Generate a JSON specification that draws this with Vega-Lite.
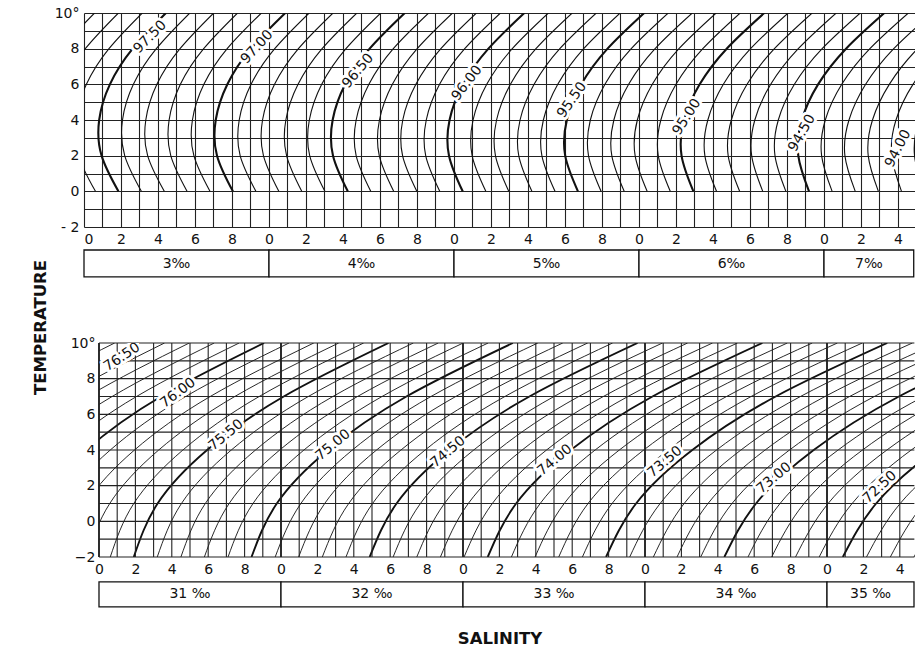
{
"$schema": "https://vega.github.io/schema/vega-lite/v6.json",
"background": "white",
"padding": {"left": 32, "top": 6, "right": 0, "bottom": 0},
"bounds": "flush",
"spacing": 116,
"resolve": {"scale": {"angle": "independent"}},
"config": {
  "view": {"stroke": null},
  "font": "DejaVu Sans",
  "axis": {"labelFont": "DejaVu Sans", "labelFontSize": 14, "labelColor": "#111", "ticks": false, "tickSize": 0, "domain": false, "labelOverlap": false, "labelBound": false, "gridColor": "#222", "gridWidth": 1.1, "gridOpacity": 1}
},
"datasets": {
"topCurves": [
{"V":97.8,"T":0,"S":2.815},{"V":97.8,"T":2,"S":2.720},{"V":97.8,"T":4,"S":2.704},{"V":97.8,"T":6,"S":2.759},{"V":97.8,"T":8,"S":2.879},{"V":97.8,"T":10,"S":3.057},
{"V":97.7,"T":0,"S":2.938},{"V":97.7,"T":2,"S":2.845},{"V":97.7,"T":4,"S":2.830},{"V":97.7,"T":6,"S":2.886},{"V":97.7,"T":8,"S":3.007},{"V":97.7,"T":10,"S":3.186},
{"V":97.6,"T":0,"S":3.062},{"V":97.6,"T":2,"S":2.970},{"V":97.6,"T":4,"S":2.956},{"V":97.6,"T":6,"S":3.013},{"V":97.6,"T":8,"S":3.135},{"V":97.6,"T":10,"S":3.315},
{"V":97.5,"T":0,"S":3.186},{"V":97.5,"T":2,"S":3.095},{"V":97.5,"T":4,"S":3.082},{"V":97.5,"T":6,"S":3.140},{"V":97.5,"T":8,"S":3.263},{"V":97.5,"T":10,"S":3.443},
{"V":97.4,"T":0,"S":3.310},{"V":97.4,"T":2,"S":3.220},{"V":97.4,"T":4,"S":3.208},{"V":97.4,"T":6,"S":3.267},{"V":97.4,"T":8,"S":3.391},{"V":97.4,"T":10,"S":3.572},
{"V":97.3,"T":0,"S":3.434},{"V":97.3,"T":2,"S":3.344},{"V":97.3,"T":4,"S":3.334},{"V":97.3,"T":6,"S":3.394},{"V":97.3,"T":8,"S":3.519},{"V":97.3,"T":10,"S":3.701},
{"V":97.2,"T":0,"S":3.557},{"V":97.2,"T":2,"S":3.469},{"V":97.2,"T":4,"S":3.460},{"V":97.2,"T":6,"S":3.521},{"V":97.2,"T":8,"S":3.647},{"V":97.2,"T":10,"S":3.830},
{"V":97.1,"T":0,"S":3.681},{"V":97.1,"T":2,"S":3.594},{"V":97.1,"T":4,"S":3.586},{"V":97.1,"T":6,"S":3.648},{"V":97.1,"T":8,"S":3.774},{"V":97.1,"T":10,"S":3.959},
{"V":97.0,"T":0,"S":3.805},{"V":97.0,"T":2,"S":3.719},{"V":97.0,"T":4,"S":3.712},{"V":97.0,"T":6,"S":3.775},{"V":97.0,"T":8,"S":3.902},{"V":97.0,"T":10,"S":4.088},
{"V":96.9,"T":0,"S":3.929},{"V":96.9,"T":2,"S":3.844},{"V":96.9,"T":4,"S":3.839},{"V":96.9,"T":6,"S":3.903},{"V":96.9,"T":8,"S":4.031},{"V":96.9,"T":10,"S":4.217},
{"V":96.8,"T":0,"S":4.053},{"V":96.8,"T":2,"S":3.970},{"V":96.8,"T":4,"S":3.965},{"V":96.8,"T":6,"S":4.030},{"V":96.8,"T":8,"S":4.159},{"V":96.8,"T":10,"S":4.346},
{"V":96.7,"T":0,"S":4.177},{"V":96.7,"T":2,"S":4.095},{"V":96.7,"T":4,"S":4.091},{"V":96.7,"T":6,"S":4.157},{"V":96.7,"T":8,"S":4.287},{"V":96.7,"T":10,"S":4.475},
{"V":96.6,"T":0,"S":4.302},{"V":96.6,"T":2,"S":4.220},{"V":96.6,"T":4,"S":4.218},{"V":96.6,"T":6,"S":4.285},{"V":96.6,"T":8,"S":4.416},{"V":96.6,"T":10,"S":4.604},
{"V":96.5,"T":0,"S":4.426},{"V":96.5,"T":2,"S":4.346},{"V":96.5,"T":4,"S":4.344},{"V":96.5,"T":6,"S":4.412},{"V":96.5,"T":8,"S":4.544},{"V":96.5,"T":10,"S":4.734},
{"V":96.4,"T":0,"S":4.550},{"V":96.4,"T":2,"S":4.471},{"V":96.4,"T":4,"S":4.471},{"V":96.4,"T":6,"S":4.540},{"V":96.4,"T":8,"S":4.672},{"V":96.4,"T":10,"S":4.863},
{"V":96.3,"T":0,"S":4.674},{"V":96.3,"T":2,"S":4.596},{"V":96.3,"T":4,"S":4.597},{"V":96.3,"T":6,"S":4.667},{"V":96.3,"T":8,"S":4.801},{"V":96.3,"T":10,"S":4.992},
{"V":96.2,"T":0,"S":4.799},{"V":96.2,"T":2,"S":4.722},{"V":96.2,"T":4,"S":4.723},{"V":96.2,"T":6,"S":4.794},{"V":96.2,"T":8,"S":4.929},{"V":96.2,"T":10,"S":5.121},
{"V":96.1,"T":0,"S":4.923},{"V":96.1,"T":2,"S":4.847},{"V":96.1,"T":4,"S":4.850},{"V":96.1,"T":6,"S":4.922},{"V":96.1,"T":8,"S":5.058},{"V":96.1,"T":10,"S":5.251},
{"V":96.0,"T":0,"S":5.047},{"V":96.0,"T":2,"S":4.973},{"V":96.0,"T":4,"S":4.976},{"V":96.0,"T":6,"S":5.049},{"V":96.0,"T":8,"S":5.186},{"V":96.0,"T":10,"S":5.380},
{"V":95.9,"T":0,"S":5.172},{"V":95.9,"T":2,"S":5.098},{"V":95.9,"T":4,"S":5.103},{"V":95.9,"T":6,"S":5.177},{"V":95.9,"T":8,"S":5.315},{"V":95.9,"T":10,"S":5.510},
{"V":95.8,"T":0,"S":5.296},{"V":95.8,"T":2,"S":5.224},{"V":95.8,"T":4,"S":5.230},{"V":95.8,"T":6,"S":5.305},{"V":95.8,"T":8,"S":5.443},{"V":95.8,"T":10,"S":5.639},
{"V":95.7,"T":0,"S":5.421},{"V":95.7,"T":2,"S":5.350},{"V":95.7,"T":4,"S":5.357},{"V":95.7,"T":6,"S":5.433},{"V":95.7,"T":8,"S":5.572},{"V":95.7,"T":10,"S":5.769},
{"V":95.6,"T":0,"S":5.546},{"V":95.6,"T":2,"S":5.475},{"V":95.6,"T":4,"S":5.483},{"V":95.6,"T":6,"S":5.561},{"V":95.6,"T":8,"S":5.701},{"V":95.6,"T":10,"S":5.898},
{"V":95.5,"T":0,"S":5.670},{"V":95.5,"T":2,"S":5.601},{"V":95.5,"T":4,"S":5.610},{"V":95.5,"T":6,"S":5.688},{"V":95.5,"T":8,"S":5.830},{"V":95.5,"T":10,"S":6.028},
{"V":95.4,"T":0,"S":5.795},{"V":95.4,"T":2,"S":5.727},{"V":95.4,"T":4,"S":5.737},{"V":95.4,"T":6,"S":5.816},{"V":95.4,"T":8,"S":5.958},{"V":95.4,"T":10,"S":6.158},
{"V":95.3,"T":0,"S":5.920},{"V":95.3,"T":2,"S":5.853},{"V":95.3,"T":4,"S":5.864},{"V":95.3,"T":6,"S":5.944},{"V":95.3,"T":8,"S":6.087},{"V":95.3,"T":10,"S":6.288},
{"V":95.2,"T":0,"S":6.044},{"V":95.2,"T":2,"S":5.979},{"V":95.2,"T":4,"S":5.991},{"V":95.2,"T":6,"S":6.072},{"V":95.2,"T":8,"S":6.216},{"V":95.2,"T":10,"S":6.417},
{"V":95.1,"T":0,"S":6.169},{"V":95.1,"T":2,"S":6.104},{"V":95.1,"T":4,"S":6.118},{"V":95.1,"T":6,"S":6.200},{"V":95.1,"T":8,"S":6.345},{"V":95.1,"T":10,"S":6.547},
{"V":95.0,"T":0,"S":6.294},{"V":95.0,"T":2,"S":6.230},{"V":95.0,"T":4,"S":6.244},{"V":95.0,"T":6,"S":6.328},{"V":95.0,"T":8,"S":6.474},{"V":95.0,"T":10,"S":6.677},
{"V":94.9,"T":0,"S":6.419},{"V":94.9,"T":2,"S":6.356},{"V":94.9,"T":4,"S":6.372},{"V":94.9,"T":6,"S":6.456},{"V":94.9,"T":8,"S":6.603},{"V":94.9,"T":10,"S":6.806},
{"V":94.8,"T":0,"S":6.544},{"V":94.8,"T":2,"S":6.482},{"V":94.8,"T":4,"S":6.499},{"V":94.8,"T":6,"S":6.584},{"V":94.8,"T":8,"S":6.732},{"V":94.8,"T":10,"S":6.936},
{"V":94.7,"T":0,"S":6.669},{"V":94.7,"T":2,"S":6.609},{"V":94.7,"T":4,"S":6.626},{"V":94.7,"T":6,"S":6.712},{"V":94.7,"T":8,"S":6.861},{"V":94.7,"T":10,"S":7.066},
{"V":94.6,"T":0,"S":6.794},{"V":94.6,"T":2,"S":6.735},{"V":94.6,"T":4,"S":6.753},{"V":94.6,"T":6,"S":6.840},{"V":94.6,"T":8,"S":6.990},{"V":94.6,"T":10,"S":7.196},
{"V":94.5,"T":0,"S":6.919},{"V":94.5,"T":2,"S":6.861},{"V":94.5,"T":4,"S":6.880},{"V":94.5,"T":6,"S":6.968},{"V":94.5,"T":8,"S":7.119},{"V":94.5,"T":10,"S":7.326},
{"V":94.4,"T":0,"S":7.044},{"V":94.4,"T":2,"S":6.987},{"V":94.4,"T":4,"S":7.007},{"V":94.4,"T":6,"S":7.096},{"V":94.4,"T":8,"S":7.248},{"V":94.4,"T":10,"S":7.456},
{"V":94.3,"T":0,"S":7.169},{"V":94.3,"T":2,"S":7.113},{"V":94.3,"T":4,"S":7.135},{"V":94.3,"T":6,"S":7.225},{"V":94.3,"T":8,"S":7.377},{"V":94.3,"T":10,"S":7.586},
{"V":94.2,"T":0,"S":7.294},{"V":94.2,"T":2,"S":7.239},{"V":94.2,"T":4,"S":7.262},{"V":94.2,"T":6,"S":7.353},{"V":94.2,"T":8,"S":7.506},{"V":94.2,"T":10,"S":7.716},
{"V":94.1,"T":0,"S":7.419},{"V":94.1,"T":2,"S":7.366},{"V":94.1,"T":4,"S":7.389},{"V":94.1,"T":6,"S":7.481},{"V":94.1,"T":8,"S":7.636},{"V":94.1,"T":10,"S":7.846},
{"V":94.0,"T":0,"S":7.544},{"V":94.0,"T":2,"S":7.492},{"V":94.0,"T":4,"S":7.516},{"V":94.0,"T":6,"S":7.609},{"V":94.0,"T":8,"S":7.765},{"V":94.0,"T":10,"S":7.976}
],
"botCurves": [
{"V":76.6,"T":-2,"S":29.768},{"V":76.6,"T":1,"S":29.879},{"V":76.6,"T":4,"S":30.131},{"V":76.6,"T":7,"S":30.532},{"V":76.6,"T":10,"S":31.086},
{"V":76.5,"T":-2,"S":29.897},{"V":76.5,"T":1,"S":30.010},{"V":76.5,"T":4,"S":30.264},{"V":76.5,"T":7,"S":30.667},{"V":76.5,"T":10,"S":31.223},
{"V":76.4,"T":-2,"S":30.026},{"V":76.4,"T":1,"S":30.141},{"V":76.4,"T":4,"S":30.397},{"V":76.4,"T":7,"S":30.802},{"V":76.4,"T":10,"S":31.360},
{"V":76.3,"T":-2,"S":30.156},{"V":76.3,"T":1,"S":30.272},{"V":76.3,"T":4,"S":30.530},{"V":76.3,"T":7,"S":30.937},{"V":76.3,"T":10,"S":31.496},
{"V":76.2,"T":-2,"S":30.285},{"V":76.2,"T":1,"S":30.403},{"V":76.2,"T":4,"S":30.663},{"V":76.2,"T":7,"S":31.072},{"V":76.2,"T":10,"S":31.633},
{"V":76.1,"T":-2,"S":30.415},{"V":76.1,"T":1,"S":30.535},{"V":76.1,"T":4,"S":30.796},{"V":76.1,"T":7,"S":31.206},{"V":76.1,"T":10,"S":31.770},
{"V":76.0,"T":-2,"S":30.544},{"V":76.0,"T":1,"S":30.666},{"V":76.0,"T":4,"S":30.929},{"V":76.0,"T":7,"S":31.341},{"V":76.0,"T":10,"S":31.907},
{"V":75.9,"T":-2,"S":30.673},{"V":75.9,"T":1,"S":30.797},{"V":75.9,"T":4,"S":31.062},{"V":75.9,"T":7,"S":31.476},{"V":75.9,"T":10,"S":32.044},
{"V":75.8,"T":-2,"S":30.803},{"V":75.8,"T":1,"S":30.928},{"V":75.8,"T":4,"S":31.195},{"V":75.8,"T":7,"S":31.611},{"V":75.8,"T":10,"S":32.180},
{"V":75.7,"T":-2,"S":30.932},{"V":75.7,"T":1,"S":31.059},{"V":75.7,"T":4,"S":31.328},{"V":75.7,"T":7,"S":31.746},{"V":75.7,"T":10,"S":32.317},
{"V":75.6,"T":-2,"S":31.062},{"V":75.6,"T":1,"S":31.191},{"V":75.6,"T":4,"S":31.461},{"V":75.6,"T":7,"S":31.880},{"V":75.6,"T":10,"S":32.454},
{"V":75.5,"T":-2,"S":31.191},{"V":75.5,"T":1,"S":31.322},{"V":75.5,"T":4,"S":31.594},{"V":75.5,"T":7,"S":32.015},{"V":75.5,"T":10,"S":32.591},
{"V":75.4,"T":-2,"S":31.320},{"V":75.4,"T":1,"S":31.453},{"V":75.4,"T":4,"S":31.727},{"V":75.4,"T":7,"S":32.150},{"V":75.4,"T":10,"S":32.727},
{"V":75.3,"T":-2,"S":31.450},{"V":75.3,"T":1,"S":31.584},{"V":75.3,"T":4,"S":31.860},{"V":75.3,"T":7,"S":32.285},{"V":75.3,"T":10,"S":32.864},
{"V":75.2,"T":-2,"S":31.579},{"V":75.2,"T":1,"S":31.715},{"V":75.2,"T":4,"S":31.993},{"V":75.2,"T":7,"S":32.420},{"V":75.2,"T":10,"S":33.001},
{"V":75.1,"T":-2,"S":31.709},{"V":75.1,"T":1,"S":31.846},{"V":75.1,"T":4,"S":32.126},{"V":75.1,"T":7,"S":32.555},{"V":75.1,"T":10,"S":33.138},
{"V":75.0,"T":-2,"S":31.838},{"V":75.0,"T":1,"S":31.977},{"V":75.0,"T":4,"S":32.259},{"V":75.0,"T":7,"S":32.689},{"V":75.0,"T":10,"S":33.274},
{"V":74.9,"T":-2,"S":31.968},{"V":74.9,"T":1,"S":32.109},{"V":74.9,"T":4,"S":32.392},{"V":74.9,"T":7,"S":32.824},{"V":74.9,"T":10,"S":33.411},
{"V":74.8,"T":-2,"S":32.097},{"V":74.8,"T":1,"S":32.240},{"V":74.8,"T":4,"S":32.525},{"V":74.8,"T":7,"S":32.960},{"V":74.8,"T":10,"S":33.548},
{"V":74.7,"T":-2,"S":32.227},{"V":74.7,"T":1,"S":32.372},{"V":74.7,"T":4,"S":32.659},{"V":74.7,"T":7,"S":33.095},{"V":74.7,"T":10,"S":33.685},
{"V":74.6,"T":-2,"S":32.357},{"V":74.6,"T":1,"S":32.503},{"V":74.6,"T":4,"S":32.792},{"V":74.6,"T":7,"S":33.230},{"V":74.6,"T":10,"S":33.822},
{"V":74.5,"T":-2,"S":32.487},{"V":74.5,"T":1,"S":32.635},{"V":74.5,"T":4,"S":32.925},{"V":74.5,"T":7,"S":33.365},{"V":74.5,"T":10,"S":33.959},
{"V":74.4,"T":-2,"S":32.616},{"V":74.4,"T":1,"S":32.766},{"V":74.4,"T":4,"S":33.059},{"V":74.4,"T":7,"S":33.500},{"V":74.4,"T":10,"S":34.096},
{"V":74.3,"T":-2,"S":32.746},{"V":74.3,"T":1,"S":32.898},{"V":74.3,"T":4,"S":33.192},{"V":74.3,"T":7,"S":33.636},{"V":74.3,"T":10,"S":34.234},
{"V":74.2,"T":-2,"S":32.876},{"V":74.2,"T":1,"S":33.029},{"V":74.2,"T":4,"S":33.325},{"V":74.2,"T":7,"S":33.771},{"V":74.2,"T":10,"S":34.371},
{"V":74.1,"T":-2,"S":33.006},{"V":74.1,"T":1,"S":33.161},{"V":74.1,"T":4,"S":33.459},{"V":74.1,"T":7,"S":33.906},{"V":74.1,"T":10,"S":34.508},
{"V":74.0,"T":-2,"S":33.136},{"V":74.0,"T":1,"S":33.292},{"V":74.0,"T":4,"S":33.592},{"V":74.0,"T":7,"S":34.041},{"V":74.0,"T":10,"S":34.645},
{"V":73.9,"T":-2,"S":33.266},{"V":73.9,"T":1,"S":33.424},{"V":73.9,"T":4,"S":33.726},{"V":73.9,"T":7,"S":34.177},{"V":73.9,"T":10,"S":34.782},
{"V":73.8,"T":-2,"S":33.396},{"V":73.8,"T":1,"S":33.556},{"V":73.8,"T":4,"S":33.859},{"V":73.8,"T":7,"S":34.312},{"V":73.8,"T":10,"S":34.919},
{"V":73.7,"T":-2,"S":33.526},{"V":73.7,"T":1,"S":33.687},{"V":73.7,"T":4,"S":33.993},{"V":73.7,"T":7,"S":34.448},{"V":73.7,"T":10,"S":35.057},
{"V":73.6,"T":-2,"S":33.656},{"V":73.6,"T":1,"S":33.819},{"V":73.6,"T":4,"S":34.126},{"V":73.6,"T":7,"S":34.583},{"V":73.6,"T":10,"S":35.194},
{"V":73.5,"T":-2,"S":33.786},{"V":73.5,"T":1,"S":33.951},{"V":73.5,"T":4,"S":34.260},{"V":73.5,"T":7,"S":34.718},{"V":73.5,"T":10,"S":35.331},
{"V":73.4,"T":-2,"S":33.916},{"V":73.4,"T":1,"S":34.083},{"V":73.4,"T":4,"S":34.393},{"V":73.4,"T":7,"S":34.854},{"V":73.4,"T":10,"S":35.469},
{"V":73.3,"T":-2,"S":34.046},{"V":73.3,"T":1,"S":34.215},{"V":73.3,"T":4,"S":34.527},{"V":73.3,"T":7,"S":34.989},{"V":73.3,"T":10,"S":35.606},
{"V":73.2,"T":-2,"S":34.176},{"V":73.2,"T":1,"S":34.346},{"V":73.2,"T":4,"S":34.660},{"V":73.2,"T":7,"S":35.124},{"V":73.2,"T":10,"S":35.743},
{"V":73.1,"T":-2,"S":34.306},{"V":73.1,"T":1,"S":34.478},{"V":73.1,"T":4,"S":34.794},{"V":73.1,"T":7,"S":35.260},{"V":73.1,"T":10,"S":35.881},
{"V":73.0,"T":-2,"S":34.436},{"V":73.0,"T":1,"S":34.610},{"V":73.0,"T":4,"S":34.927},{"V":73.0,"T":7,"S":35.395},{"V":73.0,"T":10,"S":36.019},
{"V":72.9,"T":-2,"S":34.566},{"V":72.9,"T":1,"S":34.742},{"V":72.9,"T":4,"S":35.061},{"V":72.9,"T":7,"S":35.531},{"V":72.9,"T":10,"S":36.156},
{"V":72.8,"T":-2,"S":34.696},{"V":72.8,"T":1,"S":34.874},{"V":72.8,"T":4,"S":35.195},{"V":72.8,"T":7,"S":35.667},{"V":72.8,"T":10,"S":36.294},
{"V":72.7,"T":-2,"S":34.827},{"V":72.7,"T":1,"S":35.006},{"V":72.7,"T":4,"S":35.329},{"V":72.7,"T":7,"S":35.802},{"V":72.7,"T":10,"S":36.431},
{"V":72.6,"T":-2,"S":34.957},{"V":72.6,"T":1,"S":35.138},{"V":72.6,"T":4,"S":35.463},{"V":72.6,"T":7,"S":35.938},{"V":72.6,"T":10,"S":36.569},
{"V":72.5,"T":-2,"S":35.087},{"V":72.5,"T":1,"S":35.270},{"V":72.5,"T":4,"S":35.597},{"V":72.5,"T":7,"S":36.074},{"V":72.5,"T":10,"S":36.707},
{"V":72.4,"T":-2,"S":35.217},{"V":72.4,"T":1,"S":35.402},{"V":72.4,"T":4,"S":35.731},{"V":72.4,"T":7,"S":36.210},{"V":72.4,"T":10,"S":36.845},
{"V":72.3,"T":-2,"S":35.348},{"V":72.3,"T":1,"S":35.534},{"V":72.3,"T":4,"S":35.865},{"V":72.3,"T":7,"S":36.345},{"V":72.3,"T":10,"S":36.983},
{"V":72.2,"T":-2,"S":35.478},{"V":72.2,"T":1,"S":35.666},{"V":72.2,"T":4,"S":35.999},{"V":72.2,"T":7,"S":36.481},{"V":72.2,"T":10,"S":37.121}
],
"topLabels": [
{"lab":"97.50","S":3.357,"T":8.65},{"lab":"97.00","S":3.935,"T":8.09},{"lab":"96.50","S":4.481,"T":6.75},{"lab":"96.00","S":5.07,"T":6.07},
{"lab":"95.50","S":5.638,"T":5.12},{"lab":"95.00","S":6.259,"T":4.17},{"lab":"94.50","S":6.881,"T":3.27},{"lab":"94.00","S":7.4,"T":2.4}
],
"botLabels": [
{"lab":"76.50","S":31.126,"T":9.21},{"lab":"76.00","S":31.434,"T":7.2},{"lab":"75.50","S":31.698,"T":4.84},{"lab":"75.00","S":32.286,"T":4.28},
{"lab":"74.50","S":32.918,"T":3.89},{"lab":"74.00","S":33.505,"T":3.44},{"lab":"73.50","S":34.11,"T":3.33},{"lab":"73.00","S":34.709,"T":2.43},{"lab":"72.50","S":35.291,"T":1.92}
],
"topBoxes": [
{"lo":3,"hi":4,"lab":"3‰"},{"lo":4,"hi":5,"lab":"4‰"},{"lo":5,"hi":6,"lab":"5‰"},{"lo":6,"hi":7,"lab":"6‰"},{"lo":7,"hi":7.485,"lab":"7‰"}
],
"botBoxes": [
{"lo":31,"hi":32,"lab":"31 ‰"},{"lo":32,"hi":33,"lab":"32 ‰"},{"lo":33,"hi":34,"lab":"33 ‰"},{"lo":34,"hi":35,"lab":"34 ‰"},{"lo":35,"hi":35.478,"lab":"35 ‰"}
],
"botV": [
{"S":31},{"S":31.1},{"S":31.2},{"S":31.3},{"S":31.4},{"S":31.5},{"S":31.6},{"S":31.7},{"S":31.8},{"S":31.9},
{"S":32},{"S":32.1},{"S":32.2},{"S":32.3},{"S":32.4},{"S":32.5},{"S":32.6},{"S":32.7},{"S":32.8},{"S":32.9},
{"S":33},{"S":33.1},{"S":33.2},{"S":33.3},{"S":33.4},{"S":33.5},{"S":33.6},{"S":33.7},{"S":33.8},{"S":33.9},
{"S":34},{"S":34.1},{"S":34.2},{"S":34.3},{"S":34.4},{"S":34.5},{"S":34.6},{"S":34.7},{"S":34.8},{"S":34.9},
{"S":35},{"S":35.1},{"S":35.2},{"S":35.3},{"S":35.4}
],
"botH": [
{"T":-2},{"T":-1},{"T":0},{"T":1},{"T":2},{"T":3},{"T":4},{"T":5},{"T":6},{"T":7},{"T":8},{"T":9},{"T":10}
]
},
"vconcat": [
{
  "width": 831, "height": 214,
  "layer": [
    {
      "data": {"name": "topCurves"},
      "mark": {"type": "line", "interpolate": "natural", "clip": true, "color": "#111"},
      "encoding": {
        "x": {"field": "S", "type": "quantitative", "scale": {"domain": [3, 7.4919], "nice": false, "zero": false},
          "axis": {"values": [3,3.1,3.2,3.3,3.4,3.5,3.6,3.7,3.8,3.9,4,4.1,4.2,4.3,4.4,4.5,4.6,4.7,4.8,4.9,5,5.1,5.2,5.3,5.4,5.5,5.6,5.7,5.8,5.9,6,6.1,6.2,6.3,6.4,6.5,6.6,6.7,6.8,6.9,7,7.1,7.2,7.3,7.4],
            "tickCount": 200, "labelOverlap": false,
            "grid": true, "labelExpr": "round(datum.value*10) % 2 == 0 ? '' + (round(datum.value*10) % 10) : ''", "labelPadding": 5, "title": null}},
        "y": {"field": "T", "type": "quantitative", "scale": {"domain": [-2, 10], "nice": false, "zero": false},
          "axis": {"values": [-2,-1,0,1,2,3,4,5,6,7,8,9,10], "tickCount": 200, "labelOverlap": false, "grid": true,
            "labelExpr": "datum.value == 10 ? '10°' : (datum.value == -2 ? '- 2' : (datum.value % 2 == 0 ? '' + datum.value : ''))",
            "labelPadding": 5, "title": "TEMPERATURE", "titleFont": "DejaVu Sans", "titleFontSize": 16.5, "titleFontWeight": "bold", "titleColor": "#111",
            "titleAngle": 270, "titleX": -44, "titleY": 314, "titleAlign": "center", "titleBaseline": "middle"}},
        "detail": {"field": "V", "type": "nominal"},
        "order": {"field": "T", "type": "quantitative"},
        "strokeWidth": {"condition": {"test": "abs(datum.V*2 - round(datum.V*2)) < 0.01", "value": 2.1}, "value": 1.1}
      }
    },
    {
      "data": {"name": "topLabels"},
      "mark": {"type": "text", "font": "DejaVu Sans", "fontSize": 14, "fill": "white", "stroke": "white", "strokeWidth": 6, "strokeJoin": "round", "clip": true, "align": "center", "baseline": "middle"},
      "encoding": {
        "x": {"field": "S", "type": "quantitative"}, "y": {"field": "T", "type": "quantitative"}, "text": {"field": "lab"},
        "angle": {"field": "S", "type": "quantitative", "scale": {"domain": [3.357, 7.44], "range": [315, 297]}, "legend": null}
      }
    },
    {
      "data": {"name": "topLabels"},
      "mark": {"type": "text", "font": "DejaVu Sans", "fontSize": 14, "fill": "#111", "clip": true, "align": "center", "baseline": "middle"},
      "encoding": {
        "x": {"field": "S", "type": "quantitative"}, "y": {"field": "T", "type": "quantitative"}, "text": {"field": "lab"},
        "angle": {"field": "S", "type": "quantitative", "scale": {"domain": [3.357, 7.44], "range": [315, 297]}, "legend": null}
      }
    },
    {
      "data": {"name": "topBoxes"},
      "mark": {"type": "rect", "fill": "white", "stroke": "#111", "strokeWidth": 1.3},
      "encoding": {"x": {"field": "lo", "type": "quantitative"}, "x2": {"field": "hi"}, "y": {"datum": -3.29}, "y2": {"datum": -4.8}}
    },
    {
      "data": {"name": "topBoxes"},
      "transform": [{"calculate": "(datum.lo + datum.hi) / 2", "as": "mid"}],
      "mark": {"type": "text", "font": "DejaVu Sans", "fontSize": 14, "fill": "#111", "align": "center", "baseline": "middle"},
      "encoding": {"x": {"field": "mid", "type": "quantitative"}, "y": {"datum": -4.05}, "text": {"field": "lab"}}
    }
  ]
},
{
  "width": 831, "height": 214,
  "layer": [
    {
      "data": {"name": "botCurves"},
      "mark": {"type": "line", "interpolate": "natural", "clip": true, "color": "#111"},
      "encoding": {
        "x": {"field": "S", "type": "quantitative", "scale": {"domain": [30.9176, 35.4835], "nice": false, "zero": false},
          "axis": {"values": [31,31.2,31.4,31.6,31.8,32,32.2,32.4,32.6,32.8,33,33.2,33.4,33.6,33.8,34,34.2,34.4,34.6,34.8,35,35.2,35.4],
            "tickCount": 200, "labelOverlap": false,
            "grid": false, "labelExpr": "'' + (round(datum.value*10) % 10)", "labelPadding": 5,
            "title": "SALINITY", "titleFont": "DejaVu Sans", "titleFontSize": 16.5, "titleFontWeight": "bold", "titleColor": "#111",
            "titleY": 86, "titleBaseline": "alphabetic"}},
        "y": {"field": "T", "type": "quantitative", "scale": {"domain": [-2, 10], "nice": false, "zero": false},
          "axis": {"values": [-2,0,2,4,6,8,10], "tickCount": 200, "labelOverlap": false, "grid": false, "zindex": 2,
            "labelExpr": "datum.value == 10 ? '10°' : (datum.value == -2 ? '−2' : '' + datum.value)",
            "labelPadding": -11, "title": null}},
        "detail": {"field": "V", "type": "nominal"},
        "order": {"field": "T", "type": "quantitative"},
        "strokeWidth": {"condition": {"test": "abs(datum.V*2 - round(datum.V*2)) < 0.01", "value": 1.9}, "value": 0.9}
      }
    },
    {
      "data": {"values": [{}]},
      "mark": {"type": "rect", "fill": "white", "clip": true},
      "encoding": {"x": {"datum": 30.85}, "x2": {"datum": 30.998}, "y": {"datum": -2.3}, "y2": {"datum": 10.3}}
    },
    {
      "data": {"name": "botV"},
      "mark": {"type": "rule", "color": "#222"},
      "encoding": {
        "x": {"field": "S", "type": "quantitative"}, "y": {"datum": -2}, "y2": {"datum": 10},
        "strokeWidth": {"condition": {"test": "abs(datum.S - round(datum.S)) < 0.01", "value": 1.9}, "value": 1.1}
      }
    },
    {
      "data": {"name": "botH"},
      "mark": {"type": "rule", "color": "#222", "strokeWidth": 1.1},
      "encoding": {"y": {"field": "T", "type": "quantitative"}, "x": {"datum": 31}, "x2": {"datum": 35.48}}
    },
    {
      "data": {"name": "botLabels"},
      "mark": {"type": "text", "font": "DejaVu Sans", "fontSize": 14, "fill": "white", "stroke": "white", "strokeWidth": 6, "strokeJoin": "round", "clip": true, "align": "center", "baseline": "middle"},
      "encoding": {
        "x": {"field": "S", "type": "quantitative"}, "y": {"field": "T", "type": "quantitative"}, "text": {"field": "lab"},
        "angle": {"field": "S", "type": "quantitative", "scale": {"domain": [31.126, 31.698, 34.709, 35.291], "range": [326, 320, 320, 317]}, "legend": null}
      }
    },
    {
      "data": {"name": "botLabels"},
      "mark": {"type": "text", "font": "DejaVu Sans", "fontSize": 14, "fill": "#111", "clip": true, "align": "center", "baseline": "middle"},
      "encoding": {
        "x": {"field": "S", "type": "quantitative"}, "y": {"field": "T", "type": "quantitative"}, "text": {"field": "lab"},
        "angle": {"field": "S", "type": "quantitative", "scale": {"domain": [31.126, 31.698, 34.709, 35.291], "range": [326, 320, 320, 317]}, "legend": null}
      }
    },
    {
      "data": {"name": "botBoxes"},
      "mark": {"type": "rect", "fill": "white", "stroke": "#111", "strokeWidth": 1.3},
      "encoding": {"x": {"field": "lo", "type": "quantitative"}, "x2": {"field": "hi"}, "y": {"datum": -3.4}, "y2": {"datum": -4.8}}
    },
    {
      "data": {"name": "botBoxes"},
      "transform": [{"calculate": "(datum.lo + datum.hi) / 2", "as": "mid"}],
      "mark": {"type": "text", "font": "DejaVu Sans", "fontSize": 14, "fill": "#111", "align": "center", "baseline": "middle"},
      "encoding": {"x": {"field": "mid", "type": "quantitative"}, "y": {"datum": -4.1}, "text": {"field": "lab"}}
    }
  ]
}
]
}
